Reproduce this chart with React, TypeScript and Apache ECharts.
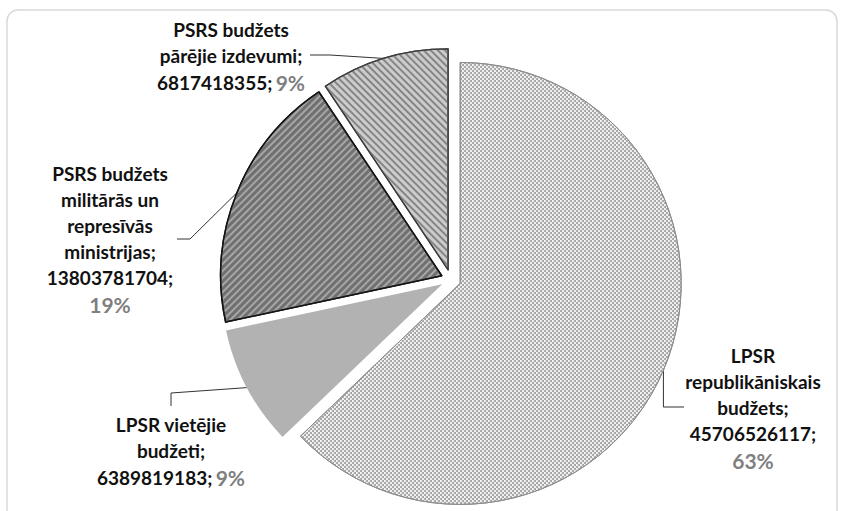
import { useEffect, useRef } from "react";
import * as echarts from "echarts";

const categories = [
  "LPSR republikāniskais budžets",
  "LPSR vietējie budžeti",
  "PSRS budžets militārās un represīvās ministrijas",
  "PSRS budžets pārējie izdevumi",
];
const labelNames = [
  "LPSR\nrepublikāniskais\nbudžets",
  "LPSR vietējie\nbudžeti",
  "PSRS budžets\nmilitārās un\nrepresīvās\nministrijas",
  "PSRS budžets\npārējie izdevumi",
];
const values = [45706526117, 6389819183, 13803781704, 6817418355];
const percentOnOwnLine = [true, false, true, false];

// label block centres and label-line elbow/end points (layout, not data)
const labelCenters = [
  [753, 408],
  [171, 451],
  [110, 239],
  [231, 56],
];
const labelLineTails = [
  [[null, 407], [684, 407]],
  [[171, 393], [171, 406]],
  [[190, 239], [177, 239]],
  [[330, 55], [310, 55]],
];

const CX = 451;
const CY = 279.5;
const RADIUS = 221;
const EXPLODE = 10;
const FONT = "Lato, 'Noto Sans', sans-serif";

const sliceStyles: any[] = [
  {
    color: "#f4f4f4",
    borderColor: "#8c8c8c",
    borderWidth: 1,
    decal: {
      symbol: "circle",
      symbolSize: 1,
      dashArrayX: [[2, 2], [0, 2, 2, 0]],
      dashArrayY: [2, 0],
      color: "#9a9a9a",
    },
  },
  { color: "#b2b2b2", borderWidth: 0 },
  {
    color: "#a6a6a6",
    borderColor: "#141414",
    borderWidth: 1.5,
    decal: {
      symbol: "rect",
      symbolSize: 1,
      dashArrayX: [1, 0],
      dashArrayY: [2.5, 2],
      rotation: -Math.PI / 4,
      color: "#707070",
    },
  },
  {
    color: "#cccccc",
    borderColor: "#3c3c3c",
    borderWidth: 1.3,
    decal: {
      symbol: "rect",
      symbolSize: 1,
      dashArrayX: [1, 0],
      dashArrayY: [1.6, 2.6],
      rotation: Math.PI / 4,
      color: "#858585",
    },
  },
];

export default function App() {
  const ref = useRef<HTMLDivElement>(null);
  useEffect(() => {
    if (!ref.current) return;
    const chart = echarts.init(ref.current, undefined, { renderer: "svg" });
    const total = values.reduce((a, b) => a + b, 0);
    let cum = 0;
    const mids = values.map((v) => {
      const m = ((cum + v / 2) / total) * Math.PI * 2;
      cum += v;
      return m;
    });

    const series = categories.map((_, si) => {
      const dx = Math.sin(mids[si]) * EXPLODE;
      const dy = -Math.cos(mids[si]) * EXPLODE;
      return {
        type: "pie",
        center: [CX + dx, CY + dy],
        radius: RADIUS,
        startAngle: 90,
        clockwise: true,
        percentPrecision: 0,
        avoidLabelOverlap: false,
        emphasis: { disabled: true },
        data: categories.map((name, i) =>
          i === si
            ? { name, value: values[i], itemStyle: sliceStyles[i] }
            : {
                name,
                value: values[i],
                itemStyle: { color: "rgba(0,0,0,0)", borderWidth: 0, decal: null },
                label: { show: false },
                labelLine: { show: false },
              }
        ),
        label: {
          show: true,
          position: "outside",
          align: "center",
          formatter: (p: any) => {
            const i = p.dataIndex;
            const sep = percentOnOwnLine[i] ? "\n" : " ";
            return `{n|${labelNames[i]};}\n{n|${p.value};}${sep}{p|${p.percent}%}`;
          },
          rich: {
            n: {
              fontFamily: FONT,
              fontWeight: "bold",
              fontSize: 19,
              lineHeight: 26,
              color: "#111111",
            },
            p: {
              fontFamily: FONT,
              fontWeight: "bold",
              fontSize: 21,
              lineHeight: 28,
              color: "#7f7f7f",
            },
          },
        },
        labelLine: {
          show: true,
          length: 10,
          length2: 10,
          lineStyle: { color: "#333333", width: 1 },
        },
        labelLayout: (params: any) => {
          const i = params.dataIndex;
          if (i !== si) return {};
          const c = labelCenters[i];
          const s = params.labelLinePoints ? params.labelLinePoints[0] : [c[0], c[1]];
          const tail = labelLineTails[i];
          const elbow = [tail[0][0] == null ? s[0] : tail[0][0], tail[0][1]];
          return {
            x: c[0],
            y: c[1],
            align: "center",
            verticalAlign: "middle",
            labelLinePoints: [s, elbow, tail[1]],
          };
        },
      };
    });

    chart.setOption({
      animation: false,
      backgroundColor: "#ffffff",
      graphic: [
        {
          type: "rect",
          shape: { x: 7, y: 10, width: 830, height: 530, r: 11 },
          style: { fill: "none", stroke: "#d9d9d9", lineWidth: 1.5 },
          silent: true,
          z: -1,
        },
      ],
      series,
    });
    return () => chart.dispose();
  }, []);
  return (
    <div
      ref={ref}
      style={{ position: "fixed", left: 0, top: 0, width: 841, height: 511 }}
    />
  );
}
